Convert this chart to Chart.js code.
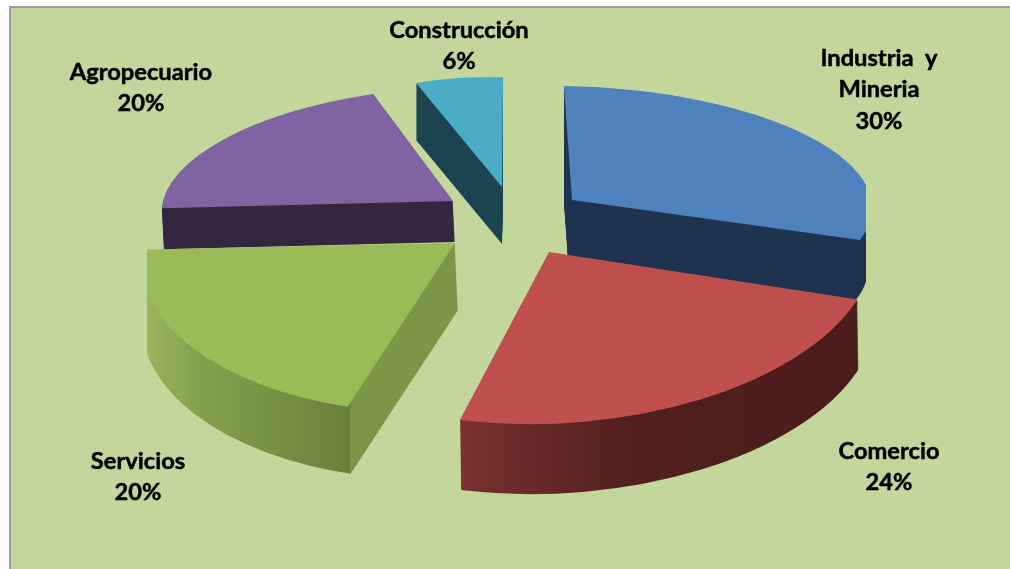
<!DOCTYPE html>
<html>
<head>
<meta charset="utf-8">
<style>
  html, body { margin: 0; background: #fff; overflow: hidden; }
  #panel { position: absolute; left: 9px; top: 6px; right: 0; bottom: 0; background: #c3d69b; border-left: 2px solid #9a9a9a; border-top: 2px solid #9a9a9a; }
  #chart { position: absolute; left: 0; top: 0; }
</style>
</head>
<body>
<div id="panel"></div>
<canvas id="chart" width="1010" height="569"></canvas>
<script src="https://cdn.jsdelivr.net/npm/chart.js@4"></script>
<script>
const categorias = ['Industria  y\nMineria', 'Comercio', 'Servicios', 'Agropecuario', 'Construcción'];
const valores = [30, 24, 20, 20, 6];
const coloresCara = ['#4f81bd', '#c0504d', '#9bbb59', '#8064a2', '#4bacc6'];

// Proyeccion 3D de cada porcion: centro ya desplazado, ejes de la elipse y altura
const centros = [[572, 200], [549, 252], [455, 243], [453, 201], [502, 187]];
const ejesU = [[300, 5], [327, -6], [315, 4], [290, 0], [236, 5]];
const ejesV = [[-8, -114], [8, -172], [30, -170], [29, -115], [1, -110]];
const alturas = [[-4, 60], [1, 70], [3, 67], [2, 41], [0, 57]];
const limitesX = [[564, 866], [0, 1010], [147, 1010], [0, 1010], [0, 1010]];
const paredes = [
    [[0, '#1f3350'], [1010, '#1f3350']],
    [[460, '#7b3130'], [620, '#52201f'], [860, '#4b1c1c']],
    [[147, '#9ab55c'], [200, '#84a04b'], [350, '#69803c'], [351, '#7c9547'], [480, '#7c9547']],
    [[0, '#352640'], [1010, '#352640']],
    [[0, '#1b4450'], [1010, '#1b4450']]
];
const ordenDibujo = [4, 3, 0, 2, 1];
const posEtiquetas = [[879, 57], [889, 450], [138, 460], [141, 71], [459, 29]];

function proyectar(ctx, arc, i, dx, dy) {
    const r = arc.outerRadius;
    const u = ejesU[i], v = ejesV[i];
    ctx.setTransform(1, 0, 0, 1, 0, 0);
    ctx.translate(centros[i][0] + dx, centros[i][1] + dy);
    ctx.transform(u[0] / r, u[1] / r, -v[0] / r, -v[1] / r, 0, 0);
    ctx.translate(-arc.x, -arc.y);
}

// Degradado horizontal en pantalla, expresado en las coordenadas locales del arco
function gradientePared(ctx, i) {
    const stops = paredes[i];
    const x0 = stops[0][0], x1 = stops[stops.length - 1][0];
    const m = ctx.getTransform();
    const n = m.a * m.a + m.c * m.c;
    const g = ctx.createLinearGradient(
        m.a * (x0 - m.e) / n, m.c * (x0 - m.e) / n,
        m.a * (x1 - m.e) / n, m.c * (x1 - m.e) / n
    );
    stops.forEach(s => g.addColorStop((s[0] - x0) / (x1 - x0), s[1]));
    return g;
}

const pastel3d = {
    id: 'pastel3d',
    beforeDatasetDraw(chart) {
        const ctx = chart.ctx;
        const arcos = chart.getDatasetMeta(0).data;
        ordenDibujo.forEach(i => {
            const arc = arcos[i];
            const opts = arc.options;
            const h = alturas[i];
            ctx.save();
            ctx.beginPath();
            ctx.rect(limitesX[i][0], 0, limitesX[i][1] - limitesX[i][0], 569);
            ctx.clip();
            for (let s = h[1]; s > 0; s--) {
                proyectar(ctx, arc, i, h[0] * s / h[1], s);
                arc.options = Object.assign({}, opts, { backgroundColor: gradientePared(ctx, i) });
                arc.draw(ctx);
            }
            arc.options = opts;
            proyectar(ctx, arc, i, 0, 0);
            arc.draw(ctx);
            ctx.restore();
        });
        return false;
    },
    afterDraw(chart) {
        const ctx = chart.ctx;
        ctx.save();
        ctx.fillStyle = '#000';
        ctx.strokeStyle = '#000';
        ctx.lineWidth = 0.5;
        ctx.font = 'bold 23.7px Lato';
        ctx.textAlign = 'center';
        ctx.textBaseline = 'middle';
        categorias.forEach((c, i) => {
            const lineas = c.split('\n').concat(valores[i] + '%');
            lineas.forEach((t, k) => {
                const y = posEtiquetas[i][1] + 1 + k * 31.5;
                ctx.fillText(t, posEtiquetas[i][0], y);
                ctx.strokeText(t, posEtiquetas[i][0], y);
            });
        });
        ctx.restore();
    }
};

new Chart(document.getElementById('chart'), {
    type: 'pie',
    data: {
        labels: categorias,
        datasets: [{
            data: valores,
            backgroundColor: coloresCara,
            borderWidth: 0
        }]
    },
    options: {
        responsive: false,
        animation: false,
        events: [],
        plugins: { legend: { display: false }, tooltip: { enabled: false } }
    },
    plugins: [pastel3d]
});
</script>
</body>
</html>
